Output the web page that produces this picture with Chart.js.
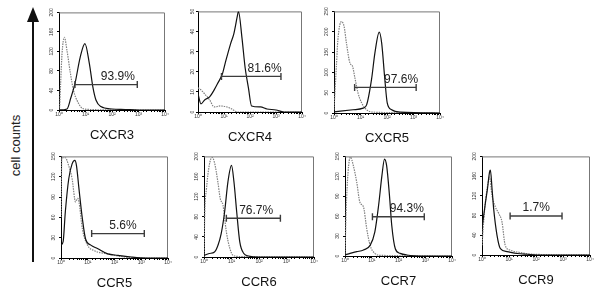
<!DOCTYPE html>
<html lang="en">
<head>
<meta charset="UTF-8" />
<title>Chemokine receptor histograms</title>
<script src="https://cdn.jsdelivr.net/npm/chart.js@4"></script>
<style>
  body { margin: 0; width: 600px; height: 296px; position: relative; background: #fff; overflow: hidden; font-family: "Liberation Sans", Arial, sans-serif; }
  canvas { position: absolute; }
  #shaft { position: absolute; left: 32px; top: 20px; width: 2px; height: 242px; background: #111; }
  #head { position: absolute; left: 27px; top: 7px; width: 0; height: 0; border-left: 6px solid transparent; border-right: 6px solid transparent; border-bottom: 15px solid #111; }
  #ylab { position: absolute; left: -25px; top: 138px; width: 80px; text-align: center; font-size: 13px; color: #222; transform: rotate(-90deg); }
</style>
</head>
<body>
<div id="shaft"></div>
<div id="head"></div>
<div id="ylab">cell counts</div>

<script>
// panel info
const names = ["CXCR3", "CXCR4", "CXCR5", "CCR5", "CCR6", "CCR7", "CCR9"];
const yMax = [200, 50, 250, 150, 200, 150, 200];
const yStep = [40, 10, 50, 30, 40, 30, 40];
const gatePct = ["93.9%", "81.6%", "97.6%", "5.6%", "76.7%", "94.3%", "1.7%"];
const gateFrom = [4, 8, 6, 14, 6.5, 10.6, 11];
const gateTo = [900, 1550, 1260, 1300, 600, 920, 920];
const gateCount = [52, 17.7, 63, 36, 77, 59, 79];
const labelAt = [166, 365, 340, 208, 79, 204, 102];

// histograms: fluorescence (x) and cell counts (y), stained vs control
const cxcr3StainX = [1, 2, 2.8, 4, 6.3, 9.5, 14, 19, 25, 38, 100, 316, 1000, 10000];
const cxcr3StainY = [0, 2, 25, 54, 108, 136, 95, 47, 20, 7, 2, 1, 0, 0];
const cxcr3CtrlX = [1, 1.05, 1.15, 1.3, 1.6, 2, 2.7, 3.5, 5.4, 7.9, 16, 100, 10000];
const cxcr3CtrlY = [0, 5, 54, 115, 149, 122, 75, 41, 14, 3, 1, 0, 0];

const cxcr4StainX = [1, 1.3, 1.8, 2.8, 4.2, 5.6, 8.7, 11.5, 18, 24, 33, 36, 49, 65, 87, 115, 250, 450, 1000, 2000, 10000];
const cxcr4StainY = [9, 4, 6, 7.5, 11, 14, 19, 25, 34, 39, 48, 50, 37, 22, 12, 3, 2.5, 1.5, 1, 0, 0];
const cxcr4CtrlX = [1, 1.3, 1.8, 2.8, 4.2, 7.4, 13, 20, 32, 10000];
const cxcr4CtrlY = [12, 11, 9, 6, 2.5, 3, 2.5, 1.5, 0, 0];

const cxcr5StainX = [1, 5.2, 12.6, 17, 26, 35, 51, 63, 83, 102, 150, 316, 10000];
const cxcr5StainY = [3, 8, 12, 20, 82, 148, 199, 172, 82, 25, 8, 2, 0];
const cxcr5CtrlX = [1, 1.23, 1.4, 1.9, 2.4, 2.95, 4, 5, 6, 8.1, 11, 17, 30, 10000];
const cxcr5CtrlY = [8, 115, 180, 225, 213, 172, 123, 115, 90, 49, 25, 8, 2, 0];

const ccr5StainX = [1, 1.2, 1.45, 1.95, 2.6, 3.3, 3.8, 4.7, 6.3, 8.3, 13, 23, 56, 135, 430, 1600, 10000];
const ccr5StainY = [19, 24, 68, 117, 139, 144, 136, 102, 58, 28, 19, 14, 6, 4, 1.5, 0, 0];
const ccr5CtrlX = [1, 1.07, 1.45, 1.95, 2.6, 3.5, 4.2, 4.7, 6.3, 9.8, 17, 56, 240, 1000, 10000];
const ccr5CtrlY = [60, 148, 148, 136, 117, 83, 88, 83, 43, 19, 11, 6, 1.5, 0, 0];

const ccr6StainX = [1, 1.55, 2.4, 3.2, 4.2, 5.6, 7.4, 10, 12.3, 15.5, 20, 28, 42, 100, 10000];
const ccr6StainY = [3, 7, 10, 23, 46, 89, 149, 182, 149, 89, 30, 7, 2, 0, 0];
const ccr6CtrlX = [1, 1.07, 1.23, 1.55, 1.95, 2.4, 3.2, 3.9, 4.9, 6.5, 8.7, 11.5, 20, 10000];
const ccr6CtrlY = [0, 89, 136, 182, 198, 188, 149, 116, 103, 50, 17, 3, 1, 0];

const ccr7StainX = [1, 1.55, 2.75, 4.9, 8.7, 13, 18, 24, 30, 36, 46, 56, 76, 115, 204, 1000, 10000];
const ccr7StainY = [1.5, 4, 6.5, 9, 16, 36, 76, 121, 146, 136, 91, 46, 11, 4, 1.5, 0, 0];
const ccr7CtrlX = [1, 1.1, 1.3, 1.6, 2.05, 2.75, 3.6, 4.9, 6.5, 8.7, 13, 20, 10000];
const ccr7CtrlY = [0, 66, 126, 149, 136, 111, 81, 74, 41, 16, 4, 1, 0];

const ccr9StainX = [1, 1.3, 1.6, 1.9, 2.05, 2.35, 2.7, 3.6, 4.8, 8.5, 20, 47, 160, 10000];
const ccr9StainY = [54, 101, 135, 168, 172, 135, 94, 40, 13, 7, 3, 1.5, 0, 0];
const ccr9CtrlX = [1, 1.23, 1.55, 1.9, 2.35, 3.1, 4.2, 5.5, 7.2, 11, 26, 81, 10000];
const ccr9CtrlY = [20, 88, 135, 158, 121, 98, 84, 67, 20, 10, 5, 1.5, 0];

const series = [
  [cxcr3StainX, cxcr3StainY, cxcr3CtrlX, cxcr3CtrlY],
  [cxcr4StainX, cxcr4StainY, cxcr4CtrlX, cxcr4CtrlY],
  [cxcr5StainX, cxcr5StainY, cxcr5CtrlX, cxcr5CtrlY],
  [ccr5StainX, ccr5StainY, ccr5CtrlX, ccr5CtrlY],
  [ccr6StainX, ccr6StainY, ccr6CtrlX, ccr6CtrlY],
  [ccr7StainX, ccr7StainY, ccr7CtrlX, ccr7CtrlY],
  [ccr9StainX, ccr9StainY, ccr9CtrlX, ccr9CtrlY],
];

// plot area of each panel on the page: left, top, width, height
const boxes = [
  [59, 12, 106, 98], [198, 11, 104, 101], [334, 11, 106, 102],
  [61, 156, 107, 102], [204, 156, 110, 101], [345, 156, 107, 100], [482, 156, 108, 99],
];
const L = 12, T = 5, R = 8, B = 34;

Chart.defaults.font.family = '"Liberation Sans", Arial, sans-serif';
const sup = ["\u2070", "\u00B9", "\u00B2", "\u00B3", "\u2074"];

const frame = {
  id: "frame",
  beforeDatasetsDraw(chart) {
    const { ctx, chartArea: a } = chart;
    ctx.save();
    ctx.strokeStyle = "#777";
    ctx.lineWidth = 1;
    ctx.beginPath();
    ctx.moveTo(a.left, a.top + 0.5);
    ctx.lineTo(a.right - 0.5, a.top + 0.5);
    ctx.lineTo(a.right - 0.5, a.bottom);
    ctx.stroke();
    ctx.restore();
  },
};

const gateText = {
  id: "gateText",
  afterDatasetsDraw(chart, args, opts) {
    const { ctx, scales } = chart;
    ctx.save();
    ctx.font = '12px "Liberation Sans", Arial, sans-serif';
    ctx.fillStyle = "#222";
    ctx.textAlign = "center";
    ctx.textBaseline = "bottom";
    ctx.fillText(opts.text, scales.x.getPixelForValue(opts.at), scales.y.getPixelForValue(opts.level) - 2);
    ctx.restore();
  },
};

const pts = (xs, ys) => xs.map((x, i) => ({ x, y: ys[i] }));

names.forEach((name, i) => {
  const [bx, by, bw, bh] = boxes[i];
  const [sx, sy, cx, cy] = series[i];
  const cv = document.createElement("canvas");
  cv.width = bw + L + R;
  cv.height = bh + T + B;
  cv.style.left = bx - L + "px";
  cv.style.top = by - T + "px";
  document.body.appendChild(cv);

  new Chart(cv.getContext("2d"), {
    type: "line",
    data: {
      datasets: [
        {
          data: [{ x: gateFrom[i], y: gateCount[i] }, { x: gateTo[i], y: gateCount[i] }],
          borderColor: "#3c3c3c",
          borderWidth: 1.4,
          pointStyle: "line",
          pointRotation: 90,
          pointRadius: 3.5,
          pointBorderWidth: 1.4,
          pointBorderColor: "#3c3c3c",
        },
        {
          data: pts(sx, sy),
          borderColor: "#111",
          borderWidth: 1.2,
          pointRadius: 0,
          cubicInterpolationMode: "monotone",
        },
        {
          data: pts(cx, cy),
          borderColor: "#808080",
          borderWidth: 1.2,
          borderDash: [1.5, 1],
          pointRadius: 0,
          cubicInterpolationMode: "monotone",
        },
      ],
    },
    options: {
      responsive: false,
      animation: false,
      devicePixelRatio: 1,
      events: [],
      layout: { padding: { top: T, right: R, left: 0, bottom: 0 } },
      plugins: {
        legend: { display: false },
        tooltip: { enabled: false },
        gateText: { text: gatePct[i], at: labelAt[i], level: gateCount[i] },
      },
      scales: {
        x: {
          type: "logarithmic",
          min: 1,
          max: 10000,
          border: { color: "#000" },
          grid: { drawOnChartArea: false, tickLength: 2, color: "#000" },
          ticks: {
            autoSkip: false,
            maxRotation: 0,
            padding: 0,
            color: "#333",
            font: { size: 5 },
            callback: (v) => {
              const e = Math.log10(v);
              return Math.abs(e - Math.round(e)) < 1e-6 ? "10" + sup[Math.round(e)] : "";
            },
          },
          title: { display: true, text: name, color: "#111", font: { size: 13 }, padding: { top: 0, bottom: 1 } },
          afterFit: (s) => { s.height = B; },
        },
        y: {
          min: 0,
          max: yMax[i],
          border: { color: "#000" },
          grid: { drawOnChartArea: false, tickLength: 2, color: "#000" },
          ticks: { stepSize: yStep[i], minRotation: 90, maxRotation: 90, crossAlign: "center", padding: 1, color: "#333", font: { size: 5 } },
          afterFit: (s) => { s.width = L; },
        },
      },
    },
    plugins: [frame, gateText],
  });
});
</script>
</body>
</html>
